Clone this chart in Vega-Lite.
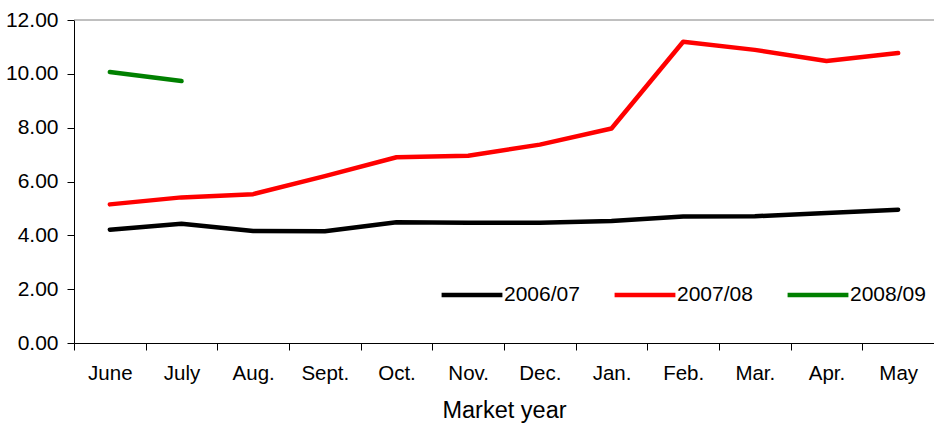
{
  "$schema": "https://vega.github.io/schema/vega-lite/v6.json",
  "width": 860,
  "height": 323,
  "autosize": {"type": "none"},
  "padding": {"left": 74, "top": 20, "right": 0, "bottom": 83},
  "config": {
    "view": {"stroke": null},
    "font": "Liberation Sans",
    "axis": {"labelFont": "Liberation Sans", "titleFont": "Liberation Sans", "labelColor": "#000000", "titleColor": "#000000", "domainColor": "#000000", "tickColor": "#000000", "grid": false}
  },
  "data": {
    "values": [
      {"month": "June", "year": "2006/07", "value": 4.21},
      {"month": "July", "year": "2006/07", "value": 4.43},
      {"month": "Aug.", "year": "2006/07", "value": 4.16},
      {"month": "Sept.", "year": "2006/07", "value": 4.15},
      {"month": "Oct.", "year": "2006/07", "value": 4.49},
      {"month": "Nov.", "year": "2006/07", "value": 4.47},
      {"month": "Dec.", "year": "2006/07", "value": 4.47},
      {"month": "Jan.", "year": "2006/07", "value": 4.53},
      {"month": "Feb.", "year": "2006/07", "value": 4.70},
      {"month": "Mar.", "year": "2006/07", "value": 4.71},
      {"month": "Apr.", "year": "2006/07", "value": 4.83},
      {"month": "May", "year": "2006/07", "value": 4.95},
      {"month": "June", "year": "2007/08", "value": 5.15},
      {"month": "July", "year": "2007/08", "value": 5.41},
      {"month": "Aug.", "year": "2007/08", "value": 5.53},
      {"month": "Sept.", "year": "2007/08", "value": 6.2},
      {"month": "Oct.", "year": "2007/08", "value": 6.90},
      {"month": "Nov.", "year": "2007/08", "value": 6.96},
      {"month": "Dec.", "year": "2007/08", "value": 7.37},
      {"month": "Jan.", "year": "2007/08", "value": 7.97},
      {"month": "Feb.", "year": "2007/08", "value": 11.19},
      {"month": "Mar.", "year": "2007/08", "value": 10.89},
      {"month": "Apr.", "year": "2007/08", "value": 10.48},
      {"month": "May", "year": "2007/08", "value": 10.77},
      {"month": "June", "year": "2008/09", "value": 10.07},
      {"month": "July", "year": "2008/09", "value": 9.73}
    ]
  },
  "layer": [
    {
      "data": {"values": [{"top": 12}]},
      "mark": {"type": "rule", "color": "#808080", "strokeWidth": 1},
      "encoding": {"y": {"field": "top", "type": "quantitative"}}
    },
    {
      "mark": {"type": "line", "strokeWidth": 4.5, "strokeCap": "round", "strokeJoin": "round"},
      "encoding": {
        "x": {
          "field": "month",
          "type": "ordinal",
          "sort": ["June", "July", "Aug.", "Sept.", "Oct.", "Nov.", "Dec.", "Jan.", "Feb.", "Mar.", "Apr.", "May"],
          "scale": {"type": "band", "paddingInner": 0, "paddingOuter": 0},
          "axis": {"tickBand": "extent", "labelAngle": 0, "labelFontSize": 20.5, "labelPadding": 13, "tickSize": 7, "title": "Market year", "titleFontSize": 23.5, "titleFontWeight": "normal", "titlePadding": 15}
        },
        "y": {
          "field": "value",
          "type": "quantitative",
          "scale": {"domain": [0, 12]},
          "axis": {"values": [0, 2, 4, 6, 8, 10, 12], "format": ".2f", "title": null, "labelFontSize": 21, "tickSize": 7, "labelPadding": 9}
        },
        "color": {
          "field": "year",
          "type": "nominal",
          "scale": {"domain": ["2006/07", "2007/08", "2008/09"], "range": ["#000000", "#ff0000", "#008000"]},
          "legend": {"orient": "none", "legendX": 365, "legendY": 242, "direction": "horizontal", "title": null, "symbolType": "stroke", "symbolSize": 3700, "symbolStrokeWidth": 4.5, "labelFontSize": 21, "labelFont": "Liberation Sans", "labelColor": "#000000", "labelOffset": -1, "columnPadding": 25}
        }
      }
    }
  ]
}
